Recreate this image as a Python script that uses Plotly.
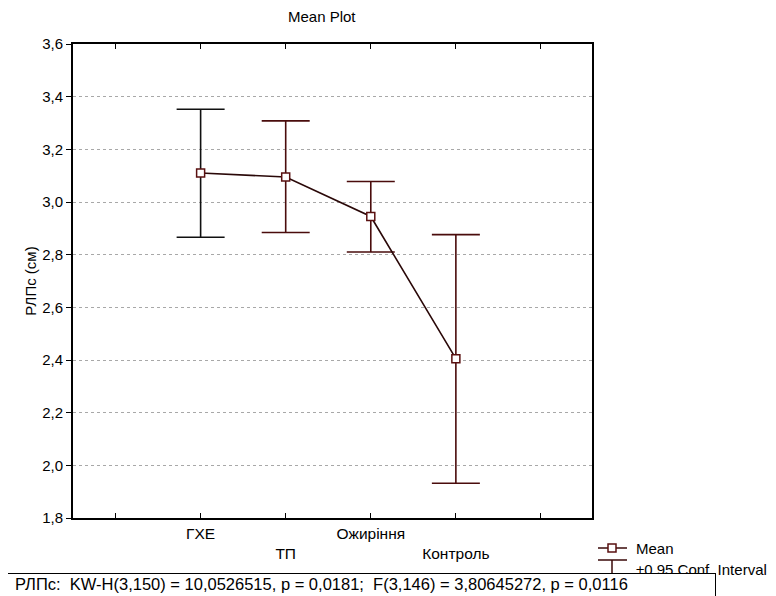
import plotly.graph_objects as go

categories = ["ГХЕ", "ТП", "Ожиріння", "Контроль"]
means = [3.11, 3.095, 2.945, 2.405]
upper = [3.352, 3.308, 3.078, 2.876]
lower = [2.866, 2.884, 2.81, 1.932]
bar_colors = ["#101010", "#4a0c0c", "#4a0c0c", "#4a0c0c"]
yticks = [1.8, 2.0, 2.2, 2.4, 2.6, 2.8, 3.0, 3.2, 3.4, 3.6]
stats_text = "РЛПс:  KW-H(3,150) = 10,0526515, p = 0,0181;  F(3,146) = 3,80645272, p = 0,0116"

xpos = list(range(1, len(categories) + 1))
FONT = "Liberation Sans, Arial, sans-serif"

fig = go.Figure()
for i, x in enumerate(xpos):
    fig.add_trace(go.Scatter(
        x=[x], y=[means[i]], mode="markers", marker=dict(size=1, opacity=0),
        error_y=dict(type="data", symmetric=False,
                     array=[upper[i] - means[i]], arrayminus=[means[i] - lower[i]],
                     color=bar_colors[i], thickness=1.6, width=24),
        showlegend=False, hoverinfo="skip"))

fig.add_trace(go.Scatter(
    x=xpos, y=means, mode="lines+markers",
    line=dict(color="#2a0808", width=1.6),
    marker=dict(symbol="square", size=8, color="white",
                line=dict(color="#5a1010", width=1.5)),
    showlegend=False))

# screenshot-pixel helpers (page has an 8px body offset)
OFF = 8
W, H = 776 - OFF, 596 - OFF
L, R, T, B = 73, 592, 44, 518
def px(x):
    return (x - L) / (R - L)
def py(y):
    return (B - y) / (B - T)

shapes = [
    dict(type="line", xref="paper", yref="paper", x0=px(598), x1=px(627), y0=py(548), y1=py(548),
         line=dict(color="#3a0808", width=1.5)),
    dict(type="rect", xref="paper", yref="paper", x0=px(608), x1=px(616), y0=py(544), y1=py(552),
         fillcolor="white", line=dict(color="#5a1010", width=1.5)),
    dict(type="line", xref="paper", yref="paper", x0=px(598), x1=px(627), y0=py(560), y1=py(560),
         line=dict(color="#3a0808", width=1.5)),
    dict(type="line", xref="paper", yref="paper", x0=px(612), x1=px(612), y0=py(560), y1=py(585),
         line=dict(color="#3a0808", width=1.5)),
]

annotations = [
    dict(text="Mean Plot", xref="paper", yref="paper", x=px(322), y=py(17), showarrow=False,
         font=dict(size=15, color="black", family=FONT), xanchor="center", yanchor="middle"),
    dict(text="Mean", xref="paper", yref="paper", x=px(634), y=py(548), showarrow=False,
         font=dict(size=15, color="black", family=FONT), xanchor="left", yanchor="middle"),
    dict(text="±0.95 Conf. Interval", xref="paper", yref="paper", x=px(634), y=py(569), showarrow=False,
         font=dict(size=15, color="black", family=FONT), xanchor="left", yanchor="middle"),
    # white stats box covering the lower half of the legend
    dict(text=" ", xref="paper", yref="paper", x=px(4), y=py(573), showarrow=False,
         xanchor="left", yanchor="top", width=708, height=40, bgcolor="white",
         bordercolor="black", borderwidth=1, borderpad=1),
    dict(text=stats_text, xref="paper", yref="paper", x=px(13), y=py(584), showarrow=False,
         font=dict(size=16.5, color="black", family=FONT), xanchor="left", yanchor="middle"),
]

fig.update_layout(
    width=W, height=H,
    margin=dict(l=L - OFF, r=W - (R - OFF), t=T - OFF, b=H - (B - OFF)),
    paper_bgcolor="white", plot_bgcolor="white",
    separators=",.",
    font=dict(family=FONT, size=15, color="black"),
    shapes=shapes, annotations=annotations,
    xaxis=dict(range=[-0.5, 5.6], tickvals=[0, 1, 2, 3, 4, 5],
               ticktext=["", categories[0], "<br>" + categories[1], categories[2], "<br>" + categories[3], ""],
               ticks="inside", ticklen=5, tickcolor="black", mirror="ticks",
               showline=True, linecolor="black", linewidth=2, showgrid=False, zeroline=False,
               tickfont=dict(size=15.5), automargin=False),
    yaxis=dict(range=[1.8, 3.6], tickvals=yticks, tickformat=".1f",
               ticks="outside", ticklen=5, tickcolor="black", mirror=True,
               showline=True, linecolor="black", linewidth=2,
               showgrid=True, gridcolor="#a8a8a8", griddash="dot", gridwidth=1, zeroline=False,
               title=dict(text="РЛПс (см)", font=dict(size=15), standoff=2),
               tickfont=dict(size=15), automargin=False),
)

fig.write_html("out.html")
